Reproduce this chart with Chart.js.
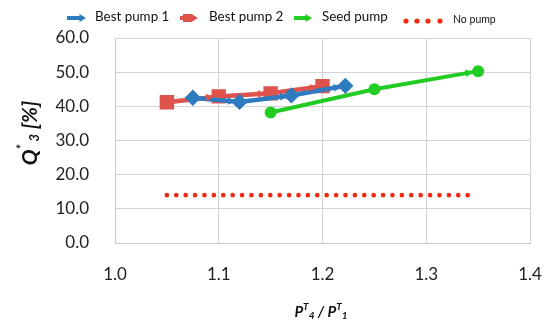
<!DOCTYPE html>
<html lang="en">
<head>
    <meta charset="UTF-8">
    <title>Q3 vs pressure ratio</title>
    <script src="https://cdn.jsdelivr.net/npm/chart.js@4.4.1/dist/chart.umd.min.js"></script>
    <style>
        body { margin: 0; background: #fff; }
        .wrap { position: relative; width: 550px; height: 328px; }
    </style>
</head>
<body>
    <div class="wrap"><canvas id="chart" width="550" height="328"></canvas></div>
    <script>
        // values
        const best1X = [1.075, 1.12, 1.17, 1.222];
        const best1Y = [42.5, 41.3, 43.2, 46.0];
        const best2X = [1.05, 1.10, 1.15, 1.20];
        const best2Y = [41.2, 42.9, 43.8, 45.9];
        const seedX = [1.15, 1.25, 1.35];
        const seedY = [38.2, 45.0, 50.3];
        const noPumpX = [1.05, 1.34];
        const noPumpY = [14.0, 14.0];
        const xTicks = [1.0, 1.1, 1.2, 1.3, 1.4];
        const yTicks = [0, 10, 20, 30, 40, 50, 60];

        const BLUE = '#2e7bbf', RED = '#e0524c', GREEN = '#22cc22', DOTRED = '#f02a10';
        const FONT = 'Lato, "Open Sans", sans-serif';

        const pts = (xs, ys) => xs.map((x, i) => ({ x: x, y: ys[i] }));

        // arrow heads at segment ends (like the Excel line arrows)
        function arrowHead(ctx, x1, y1, x2, y2, back, size, color) {
            const a = Math.atan2(y2 - y1, x2 - x1);
            const tx = x2 - Math.cos(a) * back, ty = y2 - Math.sin(a) * back;
            ctx.save();
            ctx.translate(tx, ty);
            ctx.rotate(a);
            ctx.fillStyle = color;
            ctx.beginPath();
            ctx.moveTo(0, 0);
            ctx.lineTo(-size * 1.3, -size * 0.8);
            ctx.lineTo(-size * 1.3, size * 0.8);
            ctx.closePath();
            ctx.fill();
            ctx.restore();
        }

        const arrowPlugin = {
            id: 'arrows',
            afterDatasetsDraw(chart) {
                const ctx = chart.ctx;
                chart.data.datasets.forEach((ds, di) => {
                    if (!ds.arrows) return;
                    const els = chart.getDatasetMeta(di).data;
                    for (let i = 1; i < els.length; i++) {
                        if (ds.arrows === 'last' && i !== els.length - 1) continue;
                        arrowHead(ctx, els[i - 1].x, els[i - 1].y, els[i].x, els[i].y, ds.arrowBack, ds.arrowSize, ds.borderColor);
                    }
                });
            }
        };

        function richText(ctx, parts, cx, cy, rot) {
            ctx.save();
            ctx.translate(cx, cy);
            if (rot) ctx.rotate(rot);
            let w = 0;
            parts.forEach(p => { ctx.font = p.f; w += ctx.measureText(p.t).width; });
            let x = -w / 2;
            ctx.fillStyle = '#111';
            ctx.textBaseline = 'middle';
            parts.forEach(p => {
                ctx.font = p.f;
                ctx.fillText(p.t, x, p.dy || 0);
                x += ctx.measureText(p.t).width;
            });
            ctx.restore();
        }

        const titlePlugin = {
            id: 'titles',
            afterDraw(chart) {
                const ctx = chart.ctx;
                const big = 'italic bold 21px ' + FONT, small = 'italic bold 13px ' + FONT;
                richText(ctx, [
                    { t: 'Q', f: big },
                    { t: '*', f: small, dy: -8 },
                    { t: ' 3', f: small, dy: 5 },
                    { t: ' [%]', f: big }
                ], 30, 133, -Math.PI / 2);
                const xb = 'italic bold 15px ' + FONT, xs = 'italic bold 10px ' + FONT;
                richText(ctx, [
                    { t: 'P', f: xb },
                    { t: 'T', f: xs, dy: -5 },
                    { t: '4', f: xs, dy: 4 },
                    { t: ' / P', f: xb },
                    { t: 'T', f: xs, dy: -5 },
                    { t: '1', f: xs, dy: 4 }
                ], 321, 312, 0);

                // legend
                ctx.save();
                const ly = 18;
                function lineIcon(x0, x1, color, marker) {
                    ctx.strokeStyle = color;
                    ctx.lineWidth = 4;
                    ctx.beginPath(); ctx.moveTo(x0, ly); ctx.lineTo(x1 - 6, ly); ctx.stroke();
                    arrowHead(ctx, x0, ly, x1, ly, 0, 5, color);
                    ctx.fillStyle = color;
                    if (marker === 'rect') ctx.fillRect((x0 + x1) / 2 - 6, ly - 4, 9, 8);
                }
                lineIcon(67, 86, BLUE);
                lineIcon(180, 198, RED, 'rect');
                lineIcon(294, 312, GREEN);
                ctx.fillStyle = DOTRED;
                [406, 417, 428, 440].forEach(x => { ctx.beginPath(); ctx.arc(x, ly + 3, 2.6, 0, Math.PI * 2); ctx.fill(); });
                ctx.fillStyle = '#111';
                ctx.textBaseline = 'middle';
                ctx.font = '13.4px ' + FONT;
                ctx.fillText('Best pump 1', 95, ly - 1);
                ctx.fillText('Best pump 2', 209, ly - 1);
                ctx.fillText('Seed pump', 322, ly - 1);
                ctx.font = '10.5px ' + FONT;
                ctx.fillText('No pump', 453, ly + 2);
                ctx.restore();
            }
        };

        new Chart(document.getElementById('chart'), {
            type: 'scatter',
            data: {
                datasets: [
                    {
                        label: 'No pump', data: pts(noPumpX, noPumpY), showLine: true,
                        borderColor: DOTRED, borderWidth: 4.6, borderDash: [0, 9.4], borderCapStyle: 'round',
                        pointRadius: 0
                    },
                    {
                        label: 'Seed pump', data: pts(seedX, seedY), showLine: true,
                        borderColor: GREEN, backgroundColor: GREEN, borderWidth: 4,
                        pointStyle: 'circle', pointRadius: 4, arrows: 'last', arrowBack: 6, arrowSize: 5
                    },
                    {
                        label: 'Best pump 1', data: pts(best1X, best1Y), showLine: true,
                        borderColor: BLUE, backgroundColor: BLUE, borderWidth: 4.5,
                        pointStyle: 'rectRot', pointRadius: 5, arrows: 'all', arrowBack: 5, arrowSize: 5
                    },
                    {
                        label: 'Best pump 2', data: pts(best2X, best2Y), showLine: true,
                        borderColor: RED, backgroundColor: RED, borderWidth: 4.5,
                        pointStyle: 'rect', pointRadius: 7, arrows: 'all', arrowBack: 6, arrowSize: 5
                    }
                ]
            },
            options: {
                responsive: false,
                animation: false,
                layout: { padding: { left: 0, right: 20, top: 38, bottom: 0 } },
                plugins: { legend: { display: false }, tooltip: { enabled: false } },
                scales: {
                    x: {
                        type: 'linear', min: 1.0, max: 1.4,
                        afterBuildTicks: s => { s.ticks = xTicks.map(v => ({ value: v })); },
                        afterFit: s => { s.height = 85; s.paddingLeft = 0; s.paddingRight = 0; },
                        grid: { color: '#d4d4d4', drawTicks: false },
                        border: { color: '#c8c8c8' },
                        ticks: { padding: 21, color: '#222', font: { family: FONT, size: 17 }, callback: v => v.toFixed(1) }
                    },
                    y: {
                        min: 0, max: 60,
                        afterBuildTicks: s => { s.ticks = yTicks.map(v => ({ value: v })); },
                        afterFit: s => { s.width = 115; s.paddingTop = 0; s.paddingBottom = 0; },
                        grid: { color: '#d4d4d4', drawTicks: false },
                        border: { color: '#c8c8c8' },
                        ticks: { padding: 26, color: '#222', font: { family: FONT, size: 17 }, callback: v => v.toFixed(1) }
                    }
                }
            },
            plugins: [arrowPlugin, titlePlugin]
        });
    </script>
</body>
</html>
